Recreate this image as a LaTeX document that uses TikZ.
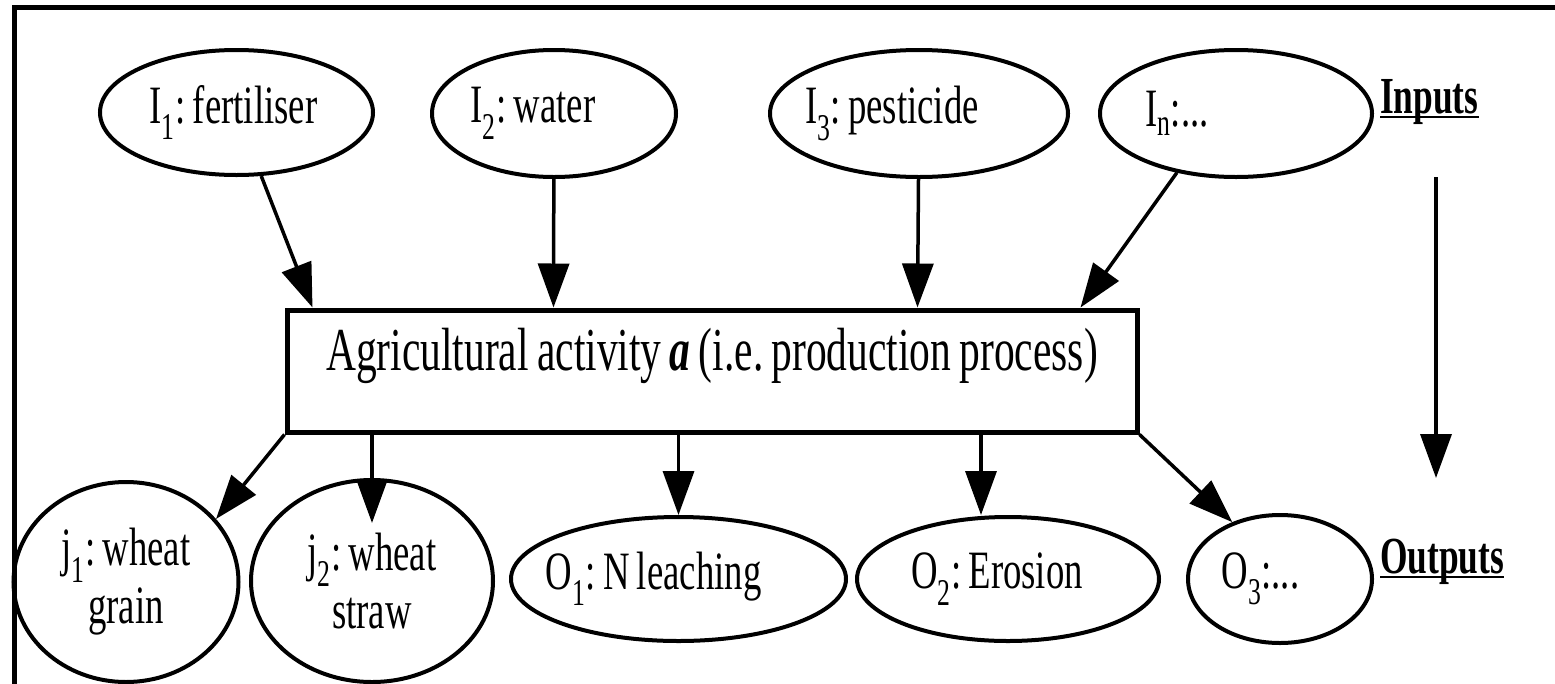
\documentclass[tikz,border=0pt]{standalone}
\usepackage{fontspec}
\setmainfont{Liberation Serif}[FakeStretch=0.68,WordSpace={0.8,0.5,0.5}]
\usetikzlibrary{shapes.geometric,arrows.meta,calc}
\frenchspacing
\newcommand{\lsh}[2]{\makebox[0pt][c]{#2\hspace*{#1}}}
\newcommand{\myul}[1]{\setbox0\hbox{#1}\rlap{\rule[-5pt]{\wd0}{2.5pt}}\box0}
\begin{document}
\begin{tikzpicture}[x=1pt,y=-1pt,
  ell/.style={draw,ellipse,line width=4pt,inner sep=0pt,font=\fontsize{54}{58}\selectfont\frenchspacing},
  ell2/.style={ell,align=center},
  arr/.style={line width=3.5pt,-{Triangle[length=44pt,width=31pt]}},
  lbl/.style={font=\fontsize{52}{60}\selectfont\bfseries,inner sep=0pt,anchor=base west},
  procbox/.style={draw,line width=5pt,inner sep=0pt,font=\fontsize{61}{64}\selectfont\frenchspacing}]
\useasboundingbox (0,0) rectangle (1555,683);
\draw[line width=5pt] (14,690) -- (14,7.5) -- (1565,7.5);
% inputs
\node[ell,minimum width=273pt,minimum height=125pt] (i1) at (236.5,112.5) {\lsh{6pt}{I\textsubscript{1}: fertiliser}};
\node[ell,minimum width=244pt,minimum height=127pt] (i2) at (554,113.5) {\lsh{42pt}{I\textsubscript{2}: water}};
\node[ell,minimum width=298pt,minimum height=127pt] (i3) at (919,113.5) {\lsh{54pt}{I\textsubscript{3}: pesticide}};
\node[ell,minimum width=272pt,minimum height=127pt] (in) at (1236,113.5) {\lsh{118pt}{I\textsubscript{n}:...}};
% process
\node[procbox,minimum width=850pt,text height=60pt,text depth=62pt] (box) at (712,371) {Agricultural activity \textbf{\textit{a}} (i.e. production process)};
% outputs
\node[ell2,minimum width=225pt,minimum height=200pt] (j1) at (126,582) {j\textsubscript{1}: wheat\\grain};
\node[ell2,minimum width=242pt,minimum height=202pt] (j2) at (372,581) {j\textsubscript{2}: wheat\\straw};
\node[ell,minimum width=335pt,minimum height=124pt] (o1) at (678.5,579) {\lsh{50pt}{O\textsubscript{1}: N leaching}};
\node[ell,minimum width=302pt,minimum height=124pt] (o2) at (1008,579) {\lsh{22pt}{O\textsubscript{2}: Erosion}};
\node[ell,minimum width=184pt,minimum height=128pt] (o3) at (1280,579) {\lsh{39pt}{O\textsubscript{3}:...}};
% labels
\node[lbl] (inp) at (1380,113) {\myul{Inputs}};
\node[lbl] (outp) at (1380,573) {\myul{Outputs}};
% input arrows
\draw[arr] (i1) -- ([xshift=28pt]box.north west);
\draw[arr] (i2) -- ([xshift=269pt]box.north west);
\draw[arr] (i3) -- ([xshift=633pt]box.north west);
\draw[arr] (in.225) -- ([xshift=-59pt]box.north east);
% output arrows
\draw[arr] (box.south west) -- (j1.35);
\draw[arr] (box.south west -| j2.north) -- ([yshift=-45pt]j2.north);
\draw[arr] (box.south -| o1.north) -- (o1.north);
\draw[arr] ($(box.south -| o2.north)+(-27,0)$) -- ($(o2.north)+(-27,0)$);
\draw[arr] (box.south east) -- (o3.130);
% direction arrow
\coordinate (va) at (1436,177);
\coordinate (vb) at (1436,478);
\draw[arr] (va) -- (vb);
\end{tikzpicture}
\end{document}
